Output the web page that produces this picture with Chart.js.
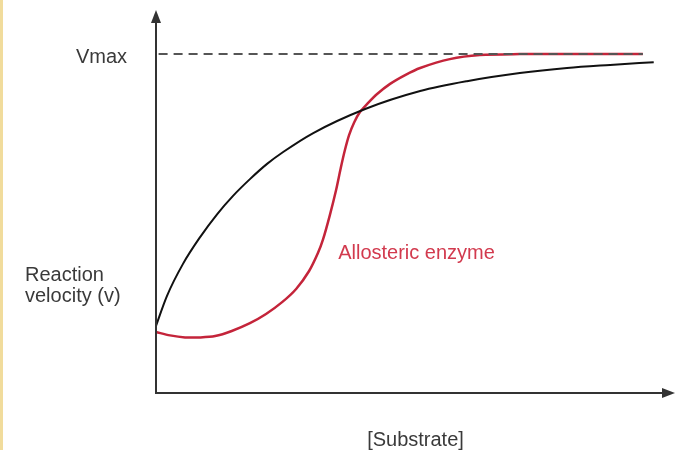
<!DOCTYPE html>
<html>
<head>
<meta charset="utf-8">
<title>Reaction velocity vs substrate</title>
<script src="https://cdn.jsdelivr.net/npm/chart.js@4.4.1/dist/chart.umd.min.js"></script>
<style>
    html, body { margin: 0; padding: 0; background: #fff; }
    #wrap { position: relative; width: 685px; height: 450px; }
    #edge { position: absolute; left: 0; top: 0; width: 3px; height: 450px; background: #f1dc9c; }
    canvas { display: block; }
</style>
</head>
<body>
<div id="wrap">
    <canvas id="kinetics" width="685" height="450"></canvas>
    <div id="edge"></div>
</div>
<script>
// [Substrate] (arbitrary units) and velocity as fraction of Vmax
const michaelisX = [0, 0.21, 0.52, 0.85, 1.18, 1.48, 1.81, 2.14, 2.45, 3.03, 4.03, 5.09, 5.99, 7.01, 7.92, 8.75, 9.59];
const michaelisY = [0.198, 0.286, 0.381, 0.460, 0.528, 0.581, 0.631, 0.676, 0.711, 0.767, 0.838, 0.891, 0.920, 0.944, 0.959, 0.968, 0.976];

const allostericX = [0, 0.27, 0.56, 0.85, 1.14, 1.46, 1.81, 2.12, 2.43, 2.70, 2.95, 3.12, 3.22, 3.35, 3.47, 3.56,
    3.64, 3.72, 3.82, 3.93, 4.07, 4.26, 4.51, 4.80, 5.09, 5.66, 6.24, 7.01, 7.78, 9.38];
const allostericY = [0.180, 0.170, 0.164, 0.164, 0.168, 0.183, 0.206, 0.233, 0.268, 0.307, 0.360, 0.413, 0.454, 0.525, 0.599, 0.664,
    0.717, 0.761, 0.799, 0.829, 0.853, 0.882, 0.912, 0.938, 0.959, 0.985, 0.997, 1.0, 1.0, 1.0];

const vmax = 1.0;
const vmaxLineX = [0.05, 9.38];

const toPoints = (xs, ys) => xs.map((x, i) => ({ x: x, y: ys[i] }));

const INK = '#333333';
const RED = '#c4243a';

// axes with arrowheads and the free text labels
const annotations = {
    id: 'annotations',
    afterDatasetsDraw(chart) {
        const { ctx, chartArea: a, scales } = chart;
        const x = scales.x, y = scales.y;
        ctx.save();

        ctx.strokeStyle = INK;
        ctx.fillStyle = INK;
        ctx.lineWidth = 2;
        ctx.beginPath();
        ctx.moveTo(a.left, a.top + 8);
        ctx.lineTo(a.left, a.bottom);
        ctx.lineTo(a.right - 8, a.bottom);
        ctx.stroke();

        ctx.beginPath();
        ctx.moveTo(a.left, a.top);
        ctx.lineTo(a.left - 5, a.top + 13);
        ctx.lineTo(a.left + 5, a.top + 13);
        ctx.closePath();
        ctx.fill();

        ctx.beginPath();
        ctx.moveTo(a.right, a.bottom);
        ctx.lineTo(a.right - 13, a.bottom - 5);
        ctx.lineTo(a.right - 13, a.bottom + 5);
        ctx.closePath();
        ctx.fill();

        ctx.font = '20px "Liberation Sans", Arial, sans-serif';
        ctx.fillStyle = '#3a3a3a';
        ctx.textBaseline = 'middle';

        ctx.textAlign = 'right';
        ctx.fillText('Vmax', 127, y.getPixelForValue(vmax) + 3);

        ctx.textAlign = 'left';
        ctx.fillText('Reaction', 25, 275);
        ctx.fillText('velocity (v)', 25, 296);

        ctx.textAlign = 'center';
        ctx.fillText('[Substrate]', (a.left + a.right) / 2, 440);

        ctx.textAlign = 'left';
        ctx.fillStyle = '#d23a4e';
        ctx.fillText('Allosteric enzyme', x.getPixelForValue(3.51), y.getPixelForValue(0.413));

        ctx.restore();
    }
};

new Chart(document.getElementById('kinetics'), {
    type: 'line',
    data: {
        datasets: [
            {
                label: 'Vmax',
                data: toPoints(vmaxLineX, [vmax, vmax]),
                borderColor: '#555555',
                borderWidth: 2,
                borderDash: [9, 6],
                pointRadius: 0
            },
            {
                label: 'Michaelis-Menten',
                data: toPoints(michaelisX, michaelisY),
                borderColor: '#111111',
                borderWidth: 2,
                cubicInterpolationMode: 'monotone',
                pointRadius: 0
            },
            {
                label: 'Allosteric enzyme',
                data: toPoints(allostericX, allostericY),
                borderColor: RED,
                borderWidth: 2.5,
                tension: 0.3,
                pointRadius: 0
            }
        ]
    },
    options: {
        responsive: false,
        animation: false,
        clip: false,
        layout: { padding: { left: 156, right: 10, top: 10, bottom: 57 } },
        plugins: {
            legend: { display: false },
            tooltip: { enabled: false }
        },
        scales: {
            x: { type: 'linear', min: 0, max: 10, display: false },
            y: { min: 0, max: 1.13, display: false }
        }
    },
    plugins: [annotations]
});
</script>
</body>
</html>
